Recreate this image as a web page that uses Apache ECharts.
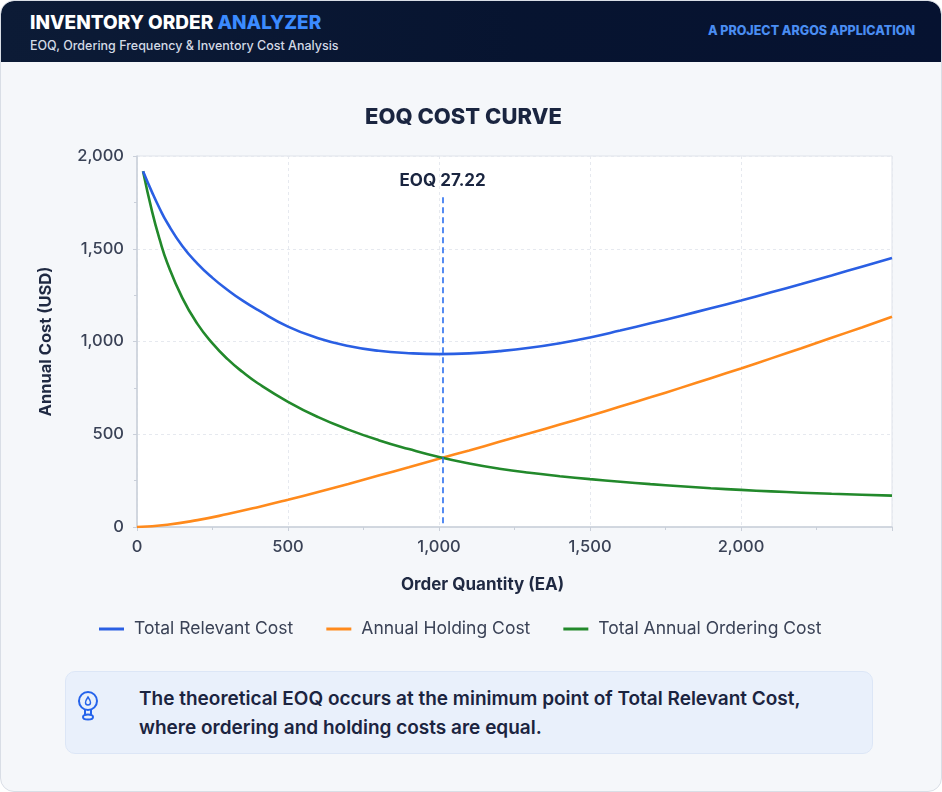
<!DOCTYPE html>
<html>
<head>
<meta charset="utf-8">
<script src="https://cdn.jsdelivr.net/npm/echarts@6/dist/echarts.min.js"></script>
<style>
  html, body { margin: 0; padding: 0; background: #ffffff; }
  #page {
    position: relative; width: 942px; height: 792px; overflow: hidden;
    background: #f5f7fa; border-radius: 14px; box-sizing: border-box;
    border: 1px solid #d9dee6; font-family: Inter, "Noto Sans", sans-serif;
  }
  #head {
    position: absolute; left: 0; top: 0; width: 100%; height: 61px;
    background: linear-gradient(90deg, #0c1b36 0%, #071430 55%, #061230 100%);
    border-radius: 13px 13px 0 0; z-index: 2;
  }
  #head .title { position: absolute; left: 29px; top: 10px; font-size: 19px; font-weight: 800; color: #ffffff; }
  #head .title span { color: #3b8bff; }
  #head .sub { position: absolute; left: 29px; top: 37px; font-size: 12.5px; font-weight: 500; color: #d3dae6; }
  #head .right { position: absolute; right: 26px; top: 22px; font-size: 12.5px; font-weight: 800; color: #4a8df2; }
  #chart { position: absolute; left: 0; top: 0; width: 942px; height: 792px; z-index: 1; }
  #note {
    position: absolute; left: 64px; top: 670px; width: 808px; height: 83px; box-sizing: border-box;
    background: #e9f0fb; border: 1px solid #dce6f6; border-radius: 10px; z-index: 2;
  }
  #note svg { position: absolute; left: 11px; top: 16px; }
  #note .txt { position: absolute; left: 73px; top: 12px; font-size: 19px; font-weight: 600; color: #1b2440; line-height: 29px; }
</style>
</head>
<body>
<div id="page">
  <div id="chart"></div>
  <div id="head">
    <div class="title">INVENTORY ORDER <span>ANALYZER</span></div>
    <div class="sub">EOQ, Ordering Frequency &amp; Inventory Cost Analysis</div>
    <div class="right">A PROJECT ARGOS APPLICATION</div>
  </div>
  <div id="note">
    <svg width="22" height="40" viewBox="0 0 22 40">
      <circle cx="11" cy="13" r="9" fill="none" stroke="#2563eb" stroke-width="2"/>
      <path d="M11 9 C9 12 8.5 13.5 8.5 14.5 A2.5 2.5 0 0 0 13.5 14.5 C13.5 13.5 13 12 11 9 Z" fill="none" stroke="#2563eb" stroke-width="1.4"/>
      <path d="M8 22 L8 27 M14 22 L14 27" stroke="#2563eb" stroke-width="2"/>
      <ellipse cx="11" cy="29" rx="5" ry="2.5" fill="none" stroke="#2563eb" stroke-width="2"/>
    </svg>
    <div class="txt">The theoretical EOQ occurs at the minimum point of Total Relevant Cost,<br>where ordering and holding costs are equal.</div>
  </div>
</div>
<script>
// order quantities (EA)
const orderQty = [20, 50, 75, 100, 150, 200, 250, 300, 350, 400, 500, 600, 700, 800, 900, 1000,
                  1100, 1200, 1300, 1400, 1500, 1600, 1700, 1800, 1900, 2000, 2100, 2200, 2300, 2400, 2500];
const totalRelevant = [1918, 1804, 1717, 1640, 1515, 1420, 1343, 1278, 1220, 1170, 1080, 1018, 976, 950, 937, 932,
                       936, 948, 966, 991, 1022, 1059, 1098, 1138, 1179, 1221, 1265, 1310, 1356, 1403, 1450];
const orderingCost = [1918, 1700, 1550, 1425, 1235, 1095, 990, 905, 835, 775, 675, 592, 525, 468, 420, 377,
                      342, 314, 292, 274, 258, 244, 231, 220, 209, 200, 192, 185, 179, 174, 169];
const holdQty = [0, 100, 200, 300, 400, 500, 600, 700, 800, 900, 1000, 1100, 1200, 1300,
                 1400, 1500, 1600, 1700, 1800, 1900, 2000, 2100, 2200, 2300, 2400, 2500];
const holdingCost = [0, 12, 37, 70, 107, 147, 189, 232, 277, 322, 368, 413, 459, 505,
                     552, 600, 649, 699, 750, 802, 855, 909, 964, 1020, 1076, 1133];
const seriesNames = ['Total Relevant Cost', 'Annual Holding Cost', 'Total Annual Ordering Cost'];
const eoqQty = 1012;
const eoqLabel = 'EOQ 27.22';
const eoqTop = 1778;

const pairs = (xs, ys) => xs.map((x, i) => [x, ys[i]]);
const fmt = v => v.toLocaleString('en-US');
const textCol = '#3a4256';

const option = {
    animation: false,
    title: {
        text: 'EOQ COST CURVE', left: 359, top: 100,
        textStyle: { fontFamily: 'Inter', fontSize: 22, fontWeight: 800, color: '#1a2540' }
    },
    legend: {
        left: 93, top: 614, itemGap: 33, itemWidth: 25, itemHeight: 3, icon: 'rect',
        textStyle: { fontFamily: 'Inter', fontSize: 17.5, color: textCol, padding: [0, 0, 0, 5] },
        data: seriesNames
    },
    grid: {
        left: 136, right: 51, top: 155, bottom: 266, show: true,
        backgroundColor: '#ffffff', borderColor: '#dfe3ea', borderWidth: 1
    },
    xAxis: {
        type: 'value', min: 0, max: 2500, interval: 500,
        name: 'Order Quantity (EA)', nameLocation: 'middle', nameGap: 49,
        nameTextStyle: { fontFamily: 'Inter', fontSize: 17, fontWeight: 700, color: '#1f2942', padding: [0, 64, 0, 0] },
        axisLine: { show: true, lineStyle: { color: '#c9cfd9', width: 1.5 } },
        axisTick: { show: true, length: 4, lineStyle: { color: '#c9cfd9' } },
        minorTick: { show: true, splitNumber: 2, length: 3, lineStyle: { color: '#c9cfd9' } },
        axisLabel: { fontFamily: 'Inter', fontSize: 16.5, fontWeight: 500, color: textCol, margin: 12, formatter: fmt,
                     showMaxLabel: false },
        splitLine: { show: true, lineStyle: { color: '#e6e9ef', type: [3, 3] } }
    },
    yAxis: {
        type: 'value', min: 0, max: 2000, interval: 500,
        name: 'Annual Cost (USD)', nameLocation: 'middle', nameGap: 82,
        nameTextStyle: { fontFamily: 'Inter', fontSize: 16.5, fontWeight: 700, color: '#1f2942' },
        axisLine: { show: true, lineStyle: { color: '#c9cfd9', width: 1.5 } },
        axisTick: { show: true, length: 4, lineStyle: { color: '#c9cfd9' } },
        minorTick: { show: true, splitNumber: 2, length: 3, lineStyle: { color: '#c9cfd9' } },
        axisLabel: { fontFamily: 'Inter', fontSize: 16.5, fontWeight: 500, color: textCol, margin: 13, formatter: fmt },
        splitLine: { show: true, lineStyle: { color: '#e6e9ef', type: [3, 3] } }
    },
    series: [
        {
            name: seriesNames[0], type: 'line', smooth: true, showSymbol: false,
            data: pairs(orderQty, totalRelevant),
            lineStyle: { width: 2.6, color: '#2a5fe3' }, itemStyle: { color: '#2a5fe3' },
            z: 4,
            markLine: {
                silent: true, symbol: 'none',
                lineStyle: { color: '#2a6ff0', type: [6, 4], width: 1.6 },
                label: { show: true, position: 'start', distance: 8, formatter: eoqLabel,
                         fontFamily: 'Inter', fontSize: 17, fontWeight: 700, color: '#1a2540' },
                data: [[{ coord: [eoqQty, eoqTop] }, { coord: [eoqQty, 0] }]]
            }
        },
        {
            name: seriesNames[1], type: 'line', smooth: true, showSymbol: false,
            data: pairs(holdQty, holdingCost),
            lineStyle: { width: 2.6, color: '#ff8a1c' }, itemStyle: { color: '#ff8a1c' }
        },
        {
            name: seriesNames[2], type: 'line', smooth: true, showSymbol: false,
            data: pairs(orderQty, orderingCost),
            lineStyle: { width: 2.6, color: '#22892b' }, itemStyle: { color: '#22892b' }
        }
    ]
};

const myChart = echarts.init(document.getElementById('chart'));
myChart.setOption(option);
window.addEventListener('resize', () => { myChart.resize(); });
</script>
</body>
</html>
